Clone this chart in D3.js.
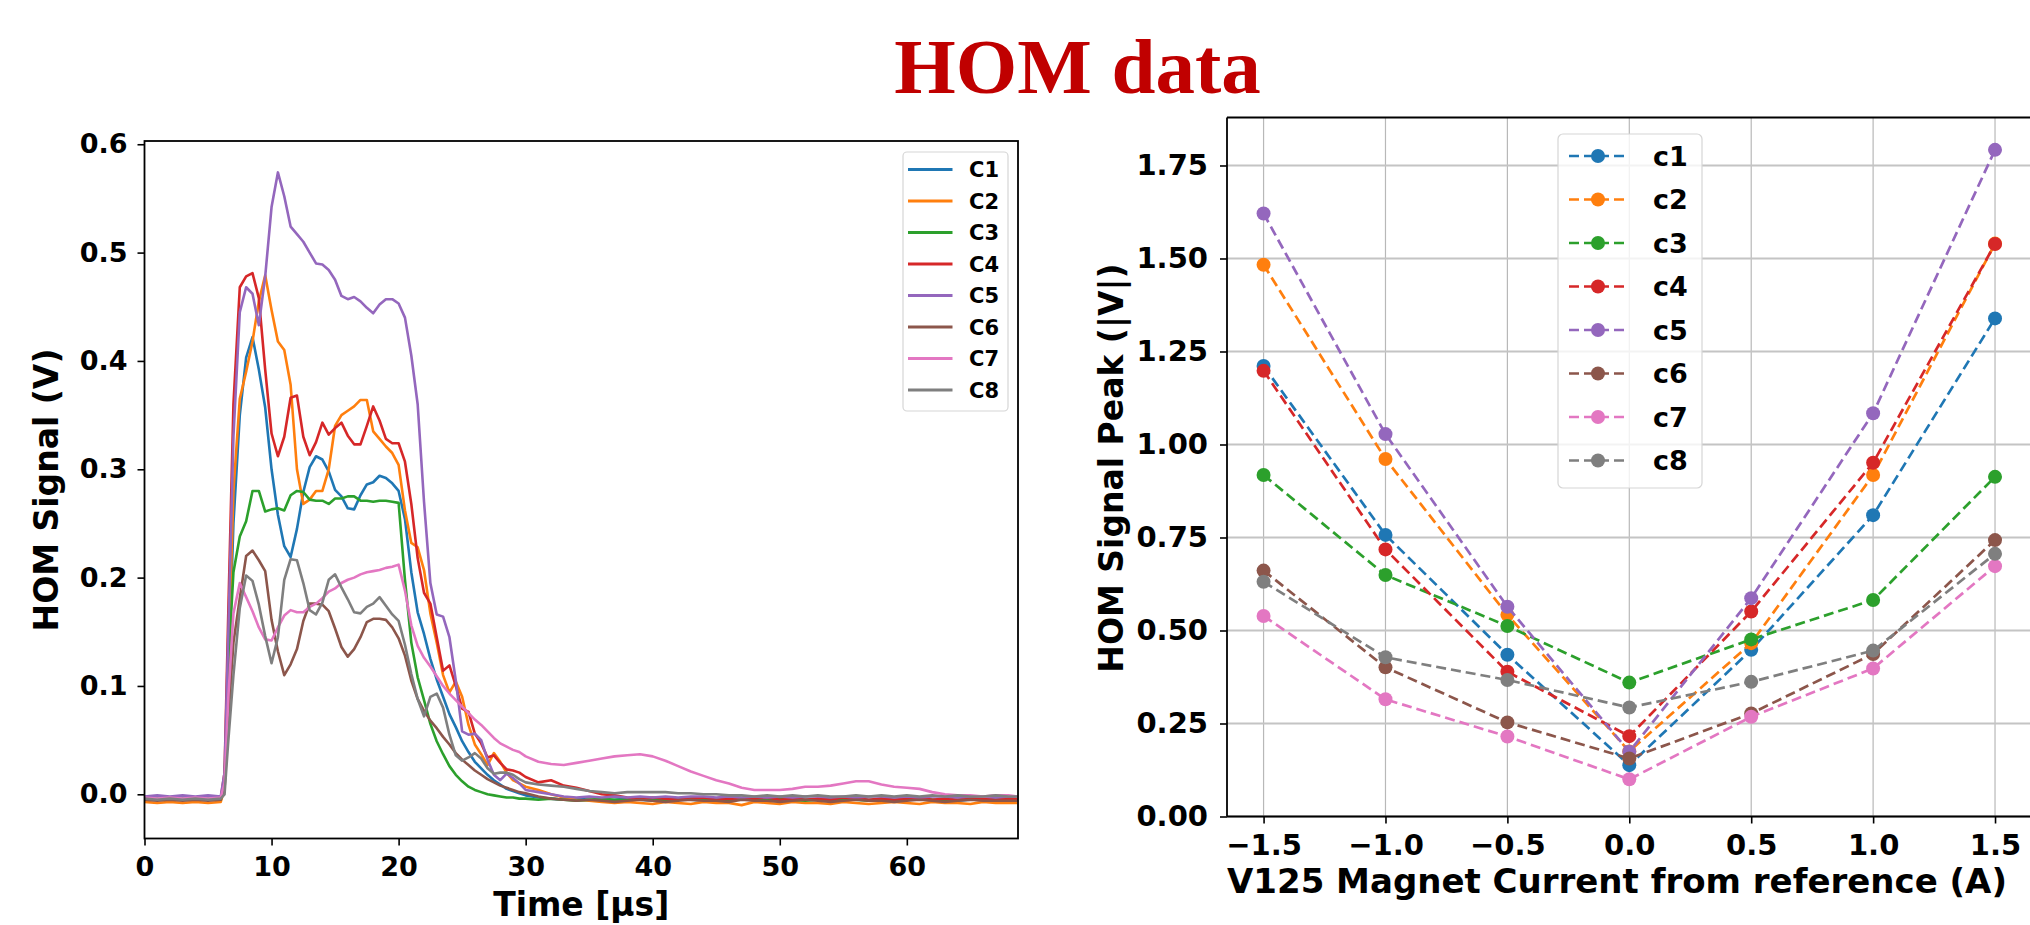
<!DOCTYPE html>
<html>
<head>
<meta charset="utf-8">
<script src="https://cdn.jsdelivr.net/npm/d3@7"></script>
<style>
  html, body { margin: 0; padding: 0; background: #fff; }
  svg { display: block; }
  text { font-family: "DejaVu Sans", sans-serif; font-weight: bold; fill: #000; }
</style>
</head>
<body>
<svg id="fig" width="2030" height="925"></svg>
<script>
// ---------- Left panel: HOM signal waveforms ----------
const timeUs = [
  0, 1, 2, 3, 4, 5, 6,
  6.3, 6.6,
  7, 7.5, 8, 8.5, 9, 9.5, 10, 10.5, 11, 11.5,
  12, 12.5, 13, 13.5, 14, 14.5, 15, 15.5, 16, 16.5,
  17, 17.5, 18, 18.5, 19, 19.5, 20, 20.5, 21, 21.5,
  22, 22.5, 23, 23.5, 24, 24.5, 25, 25.5, 26, 26.5,
  27, 27.5, 28, 28.5, 29, 29.5, 30,
  31, 32, 33, 34, 35, 36, 37, 38, 39, 40,
  41, 42, 43, 44, 45, 46, 47, 48, 49, 50,
  51, 52, 53, 54, 55, 56, 57, 58, 59, 60,
  61, 62, 63, 64, 65, 66, 67, 68, 68.7
];

const signalC1 = [
  -0.004, -0.005, -0.004, -0.005, -0.004, -0.005, -0.004,
  0.010, 0.110,
  0.250, 0.350, 0.403, 0.422, 0.392, 0.357, 0.300, 0.258, 0.229, 0.219,
  0.245, 0.279, 0.302, 0.312, 0.309, 0.298, 0.281, 0.275, 0.264, 0.263,
  0.276, 0.286, 0.288, 0.294, 0.292, 0.287, 0.280, 0.254, 0.205, 0.168,
  0.148, 0.125, 0.106, 0.090, 0.074, 0.062, 0.049, 0.039, 0.030, 0.024,
  0.018, 0.013, 0.009, 0.005, 0.003, 0.001, -0.001,
  -0.003, -0.004, -0.005, -0.004, -0.005, -0.006, -0.005, -0.004, -0.005, -0.006,
  -0.005, -0.004, -0.005, -0.006, -0.005, -0.005, -0.004, -0.005, -0.006, -0.005,
  -0.004, -0.005, -0.005, -0.006, -0.005, -0.004, -0.005, -0.005, -0.006, -0.005,
  -0.004, -0.005, -0.005, -0.006, -0.005, -0.004, -0.005, -0.005, -0.005
];

const signalC2 = [
  -0.007, -0.008, -0.007, -0.008, -0.007, -0.008, -0.007,
  0.005, 0.120,
  0.280, 0.365, 0.390, 0.418, 0.455, 0.479, 0.447, 0.418, 0.410, 0.378,
  0.300, 0.268, 0.272, 0.280, 0.280, 0.300, 0.340, 0.350, 0.354, 0.358,
  0.364, 0.364, 0.335, 0.328, 0.321, 0.315, 0.304, 0.262, 0.232, 0.228,
  0.207, 0.167, 0.140, 0.110, 0.094, 0.104, 0.090, 0.064, 0.046, 0.037,
  0.027, 0.038, 0.030, 0.020, 0.013, 0.010, 0.007,
  0.004, 0.000, -0.003, -0.005, -0.006, -0.007, -0.008, -0.007, -0.008, -0.009,
  -0.007, -0.008, -0.009, -0.007, -0.008, -0.008, -0.010, -0.007, -0.008, -0.009,
  -0.007, -0.008, -0.008, -0.009, -0.007, -0.008, -0.009, -0.008, -0.007, -0.008,
  -0.009, -0.007, -0.008, -0.008, -0.009, -0.007, -0.008, -0.008, -0.008
];

const signalC3 = [
  -0.005, -0.004, -0.005, -0.004, -0.005, -0.004, -0.005,
  0.010, 0.120,
  0.205, 0.238, 0.252, 0.280, 0.280, 0.261, 0.263, 0.264, 0.262, 0.276,
  0.280, 0.279, 0.272, 0.271, 0.271, 0.268, 0.273, 0.273, 0.275, 0.275,
  0.271, 0.271, 0.270, 0.271, 0.271, 0.270, 0.269, 0.198, 0.140, 0.108,
  0.087, 0.065, 0.049, 0.037, 0.026, 0.018, 0.012, 0.007, 0.004, 0.002,
  0.000, -0.001, -0.002, -0.003, -0.003, -0.004, -0.004,
  -0.005, -0.004, -0.005, -0.006, -0.005, -0.004, -0.005, -0.005, -0.004, -0.005,
  -0.006, -0.005, -0.004, -0.005, -0.005, -0.006, -0.004, -0.005, -0.005, -0.004,
  -0.005, -0.006, -0.005, -0.004, -0.005, -0.005, -0.006, -0.004, -0.005, -0.005,
  -0.004, -0.005, -0.006, -0.005, -0.004, -0.005, -0.005, -0.004, -0.005
];

const signalC4 = [
  -0.004, -0.005, -0.004, -0.005, -0.004, -0.005, -0.004,
  0.020, 0.170,
  0.360, 0.468, 0.478, 0.481, 0.458, 0.392, 0.333, 0.312, 0.330, 0.366,
  0.368, 0.330, 0.313, 0.325, 0.343, 0.332, 0.338, 0.343, 0.331, 0.323,
  0.323, 0.340, 0.358, 0.345, 0.328, 0.324, 0.324, 0.307, 0.268, 0.218,
  0.186, 0.176, 0.145, 0.114, 0.119, 0.100, 0.079, 0.076, 0.056, 0.047,
  0.034, 0.036, 0.029, 0.023, 0.022, 0.020, 0.016,
  0.011, 0.013, 0.008, 0.006, 0.003, 0.000, -0.001, -0.003, -0.004, -0.003,
  -0.004, -0.005, -0.004, -0.003, -0.005, -0.004, -0.005, -0.004, -0.003, -0.005,
  -0.004, -0.005, -0.004, -0.005, -0.003, -0.004, -0.005, -0.004, -0.005, -0.004,
  -0.003, -0.005, -0.004, -0.005, -0.004, -0.004, -0.005, -0.004, -0.004
];

const signalC5 = [
  -0.002, -0.001, -0.002, -0.001, -0.002, -0.001, -0.002,
  0.020, 0.150,
  0.330, 0.445, 0.468, 0.462, 0.433, 0.478, 0.542, 0.574, 0.552, 0.524,
  0.517, 0.510, 0.500, 0.490, 0.489, 0.484, 0.475, 0.460, 0.457, 0.459,
  0.455, 0.449, 0.444, 0.452, 0.457, 0.457, 0.453, 0.440, 0.405, 0.360,
  0.270, 0.195, 0.166, 0.164, 0.145, 0.105, 0.058, 0.055, 0.056, 0.050,
  0.032, 0.018, 0.013, 0.019, 0.015, 0.010, 0.004,
  0.002, 0.000, -0.002, -0.003, -0.002, -0.003, -0.002, -0.003, -0.002, -0.003,
  -0.002, -0.003, -0.002, -0.002, -0.003, -0.002, -0.003, -0.002, -0.003, -0.002,
  -0.003, -0.002, -0.002, -0.003, -0.002, -0.003, -0.002, -0.002, -0.003, -0.002,
  -0.003, -0.002, -0.002, -0.003, -0.002, -0.002, -0.003, -0.002, -0.002
];

const signalC6 = [
  -0.005, -0.006, -0.005, -0.006, -0.005, -0.006, -0.005,
  0.005, 0.070,
  0.140, 0.181, 0.220, 0.225, 0.216, 0.206, 0.161, 0.132, 0.110, 0.120,
  0.134, 0.160, 0.176, 0.176, 0.175, 0.169, 0.153, 0.136, 0.127, 0.134,
  0.145, 0.159, 0.162, 0.162, 0.161, 0.154, 0.144, 0.128, 0.105, 0.088,
  0.077, 0.068, 0.061, 0.053, 0.046, 0.038, 0.032, 0.027, 0.022, 0.018,
  0.014, 0.011, 0.008, 0.006, 0.004, 0.002, 0.001,
  -0.002, -0.004, -0.005, -0.006, -0.005, -0.006, -0.007, -0.006, -0.005, -0.006,
  -0.007, -0.006, -0.005, -0.006, -0.006, -0.007, -0.005, -0.006, -0.006, -0.007,
  -0.006, -0.005, -0.006, -0.007, -0.006, -0.005, -0.006, -0.006, -0.007, -0.006,
  -0.005, -0.006, -0.007, -0.006, -0.005, -0.006, -0.006, -0.006, -0.006
];

const signalC7 = [
  -0.003, -0.004, -0.003, -0.004, -0.003, -0.004, -0.003,
  0.010, 0.090,
  0.167, 0.195, 0.182, 0.169, 0.154, 0.143, 0.142, 0.154, 0.165, 0.170,
  0.168, 0.168, 0.173, 0.176, 0.181, 0.187, 0.190, 0.195, 0.198, 0.200,
  0.203, 0.205, 0.206, 0.207, 0.209, 0.210, 0.212, 0.188, 0.156, 0.137,
  0.126, 0.118, 0.109, 0.100, 0.093, 0.087, 0.081, 0.075, 0.069, 0.064,
  0.058, 0.052, 0.047, 0.044, 0.041, 0.039, 0.035,
  0.030, 0.028, 0.027, 0.029, 0.031, 0.033, 0.035, 0.036, 0.037, 0.035,
  0.031, 0.026, 0.021, 0.017, 0.013, 0.010, 0.006, 0.004, 0.004, 0.004,
  0.005, 0.007, 0.007, 0.008, 0.010, 0.012, 0.012, 0.009, 0.007, 0.006,
  0.005, 0.002, 0.000, -0.001, -0.001, -0.002, -0.001, -0.001, -0.002
];

const signalC8 = [
  -0.004, -0.005, -0.004, -0.005, -0.004, -0.005, -0.004,
  0.000, 0.050,
  0.110, 0.172, 0.202, 0.197, 0.175, 0.146, 0.121, 0.145, 0.198, 0.217,
  0.216, 0.195, 0.170, 0.166, 0.177, 0.198, 0.203, 0.191, 0.180, 0.168,
  0.167, 0.173, 0.176, 0.182, 0.174, 0.166, 0.160, 0.138, 0.111, 0.088,
  0.072, 0.090, 0.093, 0.080, 0.055, 0.036, 0.031, 0.034, 0.038, 0.033,
  0.024, 0.019, 0.020, 0.020, 0.018, 0.014, 0.011,
  0.009, 0.008, 0.007, 0.005, 0.003, 0.002, 0.001, 0.002, 0.002, 0.002,
  0.002, 0.001, 0.001, 0.000, 0.000, -0.001, -0.001, -0.002, -0.001, -0.002,
  -0.001, -0.002, -0.001, -0.002, -0.002, -0.001, -0.002, -0.001, -0.002, -0.001,
  -0.002, -0.001, -0.002, -0.001, -0.002, -0.002, -0.001, -0.002, -0.002
];

const waveformNames = ["C1", "C2", "C3", "C4", "C5", "C6", "C7", "C8"];
const timeTicks = [0, 10, 20, 30, 40, 50, 60];
const signalTicks = [0.0, 0.1, 0.2, 0.3, 0.4, 0.5, 0.6];

// ---------- Right panel: peak signal vs magnet current ----------
const magnetCurrent = [-1.5, -1.0, -0.5, 0.0, 0.5, 1.0, 1.5];
const peakC1 = [1.211, 0.757, 0.435, 0.138, 0.448, 0.810, 1.339];
const peakC2 = [1.483, 0.961, 0.542, 0.175, 0.466, 0.918, 1.540];
const peakC3 = [0.918, 0.649, 0.512, 0.360, 0.476, 0.582, 0.913];
const peakC4 = [1.198, 0.718, 0.389, 0.216, 0.551, 0.951, 1.539];
const peakC5 = [1.621, 1.028, 0.564, 0.174, 0.587, 1.084, 1.792];
const peakC6 = [0.661, 0.401, 0.253, 0.156, 0.277, 0.437, 0.743];
const peakC7 = [0.539, 0.315, 0.215, 0.100, 0.268, 0.398, 0.673];
const peakC8 = [0.631, 0.428, 0.367, 0.293, 0.362, 0.446, 0.706];

const peakNames = ["c1", "c2", "c3", "c4", "c5", "c6", "c7", "c8"];
const currentTicks = [-1.5, -1.0, -0.5, 0.0, 0.5, 1.0, 1.5];
const peakTicks = [0.00, 0.25, 0.50, 0.75, 1.00, 1.25, 1.50, 1.75];

const palette = ["#1f77b4", "#ff7f0e", "#2ca02c", "#d62728",
                 "#9467bd", "#8c564b", "#e377c2", "#7f7f7f"];

const waveforms = [signalC1, signalC2, signalC3, signalC4,
                   signalC5, signalC6, signalC7, signalC8];
const peaks = [peakC1, peakC2, peakC3, peakC4, peakC5, peakC6, peakC7, peakC8];

const svg = d3.select("#fig");

// ---------- Title ----------
svg.append("text")
  .attr("x", 1077.5).attr("y", 93)
  .attr("text-anchor", "middle")
  .style("font-family", "'Liberation Serif', 'Times New Roman', serif")
  .style("font-weight", "bold")
  .style("font-size", "79px")
  .style("fill", "#c00000")
  .text("HOM data");

function styleAxis(g, fontSize) {
  g.select(".domain").remove();
  g.selectAll(".tick line").attr("stroke", "#000").attr("stroke-width", 1.6);
  g.selectAll(".tick text")
    .style("font-family", "'DejaVu Sans', sans-serif")
    .style("font-weight", "bold")
    .style("font-size", fontSize + "px")
    .attr("fill", "#000");
}

// ---------- Left panel ----------
const L = { left: 144.5, right: 1018, top: 141, bottom: 838.5 };
const xT = d3.scaleLinear().domain([0, 68.75]).range([L.left, L.right]);
const yS = d3.scaleLinear().domain([-0.0408, 0.603]).range([L.bottom, L.top]);

svg.append("defs").append("clipPath").attr("id", "clipL")
  .append("rect")
  .attr("x", L.left).attr("y", L.top)
  .attr("width", L.right - L.left).attr("height", L.bottom - L.top);

const waveLine = d3.line()
  .x(d => xT(d[0]))
  .y(d => yS(d[1]));

const gWave = svg.append("g").attr("clip-path", "url(#clipL)");
waveforms.forEach((vals, i) => {
  const pts = timeUs.map((t, k) => [t, vals[k]]).filter(p => p[1] !== undefined);
  gWave.append("path")
    .datum(pts)
    .attr("d", waveLine)
    .attr("fill", "none")
    .attr("stroke", palette[i])
    .attr("stroke-width", 2.6)
    .attr("stroke-linejoin", "round");
});

const axLx = svg.append("g")
  .attr("transform", `translate(0,${L.bottom})`)
  .call(d3.axisBottom(xT).tickValues(timeTicks).tickFormat(d3.format("d"))
    .tickSize(7).tickPadding(11));
styleAxis(axLx, 27);

const axLy = svg.append("g")
  .attr("transform", `translate(${L.left},0)`)
  .call(d3.axisLeft(yS).tickValues(signalTicks).tickFormat(d3.format(".1f"))
    .tickSize(7).tickPadding(10));
styleAxis(axLy, 27);

svg.append("rect")
  .attr("x", L.left).attr("y", L.top)
  .attr("width", L.right - L.left).attr("height", L.bottom - L.top)
  .attr("fill", "none").attr("stroke", "#000").attr("stroke-width", 1.8);

svg.append("text")
  .attr("x", (L.left + L.right) / 2).attr("y", 916)
  .attr("text-anchor", "middle")
  .style("font-size", "33px")
  .text("Time [µs]");

svg.append("text")
  .attr("transform", "translate(58,490) rotate(-90)")
  .attr("text-anchor", "middle")
  .style("font-size", "33px")
  .text("HOM Signal (V)");

// Left legend
const legL = svg.append("g");
legL.append("rect")
  .attr("x", 903).attr("y", 152).attr("width", 105).attr("height", 259)
  .attr("rx", 4).attr("ry", 4)
  .attr("fill", "#fff").attr("fill-opacity", 0.8)
  .attr("stroke", "#d6d6d6").attr("stroke-width", 1.2);
waveformNames.forEach((name, i) => {
  const cy = 169.5 + i * 31.5;
  legL.append("line")
    .attr("x1", 908).attr("x2", 952.5).attr("y1", cy).attr("y2", cy)
    .attr("stroke", palette[i]).attr("stroke-width", 2.8);
  legL.append("text")
    .attr("x", 969).attr("y", cy).attr("dy", "0.36em")
    .style("font-size", "21px")
    .text(name);
});

// ---------- Right panel ----------
const R = { left: 1227, right: 2031.6, top: 117.5, bottom: 816.5 };
const xC = d3.scaleLinear().domain([-1.65, 1.65]).range([R.left, R.right]);
const yP = d3.scaleLinear().domain([0, 1.879]).range([R.bottom, R.top]);

const grid = svg.append("g");
currentTicks.forEach(v => {
  grid.append("line")
    .attr("x1", xC(v)).attr("x2", xC(v)).attr("y1", R.top).attr("y2", R.bottom)
    .attr("stroke", "#b8b8b8").attr("stroke-width", 1.2);
});
peakTicks.forEach(v => {
  grid.append("line")
    .attr("x1", R.left).attr("x2", R.right).attr("y1", yP(v)).attr("y2", yP(v))
    .attr("stroke", "#c4c4c4").attr("stroke-width", 2);
});

const peakLine = d3.line()
  .x(d => xC(d[0]))
  .y(d => yP(d[1]));

peaks.forEach((vals, i) => {
  const pts = magnetCurrent.map((c, k) => [c, vals[k]]);
  const g = svg.append("g");
  g.append("path")
    .datum(pts)
    .attr("d", peakLine)
    .attr("fill", "none")
    .attr("stroke", palette[i])
    .attr("stroke-width", 2.7)
    .attr("stroke-dasharray", "10,5");
  g.selectAll("circle")
    .data(pts)
    .join("circle")
    .attr("cx", d => xC(d[0]))
    .attr("cy", d => yP(d[1]))
    .attr("r", 7)
    .attr("fill", palette[i]);
});

const axRx = svg.append("g")
  .attr("transform", `translate(0,${R.bottom})`)
  .call(d3.axisBottom(xC).tickValues(currentTicks).tickFormat(d3.format(".1f"))
    .tickSize(7).tickPadding(11));
styleAxis(axRx, 29);

const axRy = svg.append("g")
  .attr("transform", `translate(${R.left},0)`)
  .call(d3.axisLeft(yP).tickValues(peakTicks).tickFormat(d3.format(".2f"))
    .tickSize(7).tickPadding(12));
styleAxis(axRy, 29);

// spines: left, top, bottom (right edge lies past the canvas)
svg.append("line").attr("x1", R.left).attr("x2", R.left).attr("y1", R.top).attr("y2", R.bottom)
  .attr("stroke", "#000").attr("stroke-width", 1.8);
svg.append("line").attr("x1", R.left).attr("x2", R.right).attr("y1", R.top).attr("y2", R.top)
  .attr("stroke", "#000").attr("stroke-width", 2);
svg.append("line").attr("x1", R.left).attr("x2", R.right).attr("y1", R.bottom).attr("y2", R.bottom)
  .attr("stroke", "#000").attr("stroke-width", 2);

svg.append("text")
  .attr("x", 1617).attr("y", 893)
  .attr("text-anchor", "middle")
  .style("font-size", "34px")
  .text("V125 Magnet Current from reference (A)");

svg.append("text")
  .attr("transform", "translate(1123,468) rotate(-90)")
  .attr("text-anchor", "middle")
  .style("font-size", "33px")
  .text("HOM Signal Peak (|V|)");

// Right legend
const legR = svg.append("g");
legR.append("rect")
  .attr("x", 1558).attr("y", 134).attr("width", 144).attr("height", 354)
  .attr("rx", 5).attr("ry", 5)
  .attr("fill", "#fff").attr("fill-opacity", 0.8)
  .attr("stroke", "#d6d6d6").attr("stroke-width", 1.2);
peakNames.forEach((name, i) => {
  const cy = 156 + i * 43.5;
  legR.append("line")
    .attr("x1", 1569).attr("x2", 1627).attr("y1", cy).attr("y2", cy)
    .attr("stroke", palette[i]).attr("stroke-width", 2.7)
    .attr("stroke-dasharray", "10,5");
  legR.append("circle")
    .attr("cx", 1598).attr("cy", cy).attr("r", 7)
    .attr("fill", palette[i]);
  legR.append("text")
    .attr("x", 1653).attr("y", cy).attr("dy", "0.36em")
    .style("font-size", "27px")
    .text(name);
});
</script>
</body>
</html>
